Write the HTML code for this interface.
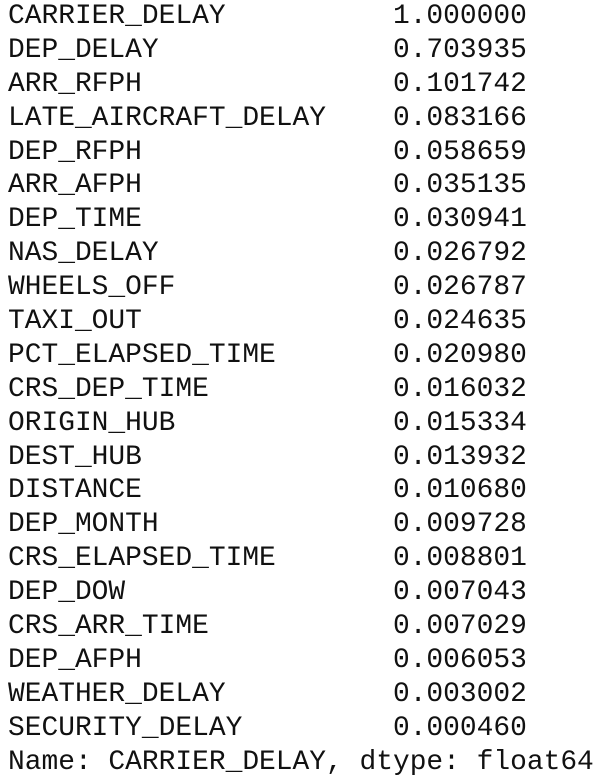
<!DOCTYPE html>
<html><head><meta charset="utf-8"><style>
html,body{margin:0;padding:0;background:#fff;width:600px;height:782px;overflow:hidden}
#out{position:absolute;left:8px;top:0;font-family:"Liberation Mono",monospace;font-size:27.9px;line-height:33.9px;color:#111;white-space:pre;margin:0}
.row{display:block;height:33.9px}
</style></head><body>
<pre id="out"></pre>
<script>
const names=["CARRIER_DELAY","DEP_DELAY","ARR_RFPH","LATE_AIRCRAFT_DELAY","DEP_RFPH","ARR_AFPH","DEP_TIME","NAS_DELAY","WHEELS_OFF","TAXI_OUT","PCT_ELAPSED_TIME","CRS_DEP_TIME","ORIGIN_HUB","DEST_HUB","DISTANCE","DEP_MONTH","CRS_ELAPSED_TIME","DEP_DOW","CRS_ARR_TIME","DEP_AFPH","WEATHER_DELAY","SECURITY_DELAY"];
const values=[1.000000,0.703935,0.101742,0.083166,0.058659,0.035135,0.030941,0.026792,0.026787,0.024635,0.020980,0.016032,0.015334,0.013932,0.010680,0.009728,0.008801,0.007043,0.007029,0.006053,0.003002,0.000460];
const footer="Name: CARRIER_DELAY, dtype: float64";
const out=document.getElementById('out');
names.forEach((n,i)=>{
  const r=document.createElement('span');
  r.className='row';
  
  
  r.textContent=n.padEnd(23,' ')+values[i].toFixed(6);
  out.appendChild(r);
});
const f=document.createElement('span');
f.className='row';


f.textContent=footer;
out.appendChild(f);
</script>
</body></html>
